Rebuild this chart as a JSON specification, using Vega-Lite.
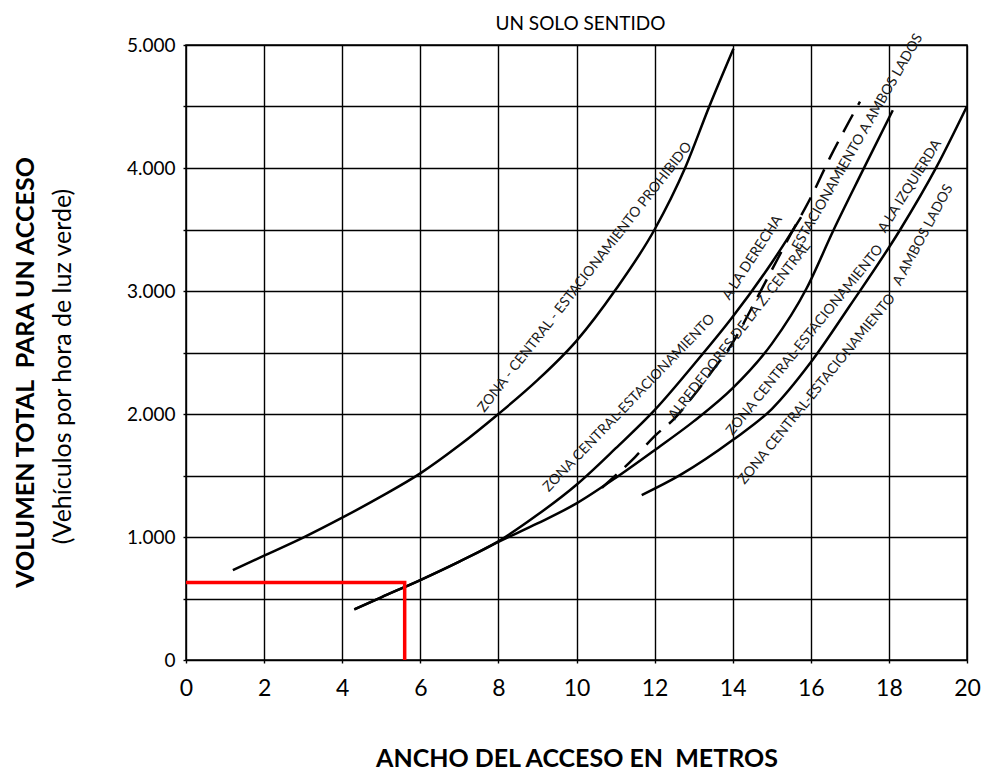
{
  "$schema": "https://vega.github.io/schema/vega-lite/v6.json",
  "description": "Volumen total para un acceso segun el ancho del acceso, un solo sentido.",
  "width": 781,
  "height": 615,
  "autosize": {"type": "none"},
  "padding": {"left": 186, "top": 45, "right": 20, "bottom": 111},
  "title": {
    "text": "UN SOLO SENTIDO",
    "fontSize": 19,
    "fontWeight": "normal",
    "font": "Lato",
    "color": "black",
    "frame": "group",
    "offset": 17,
    "dy": 20,
    "dx": 4
  },
  "datasets": {
    "curvas": [
      {"curva": "Prohibido", "x": 1.2, "y": 731},
      {"curva": "Prohibido", "x": 2, "y": 848},
      {"curva": "Prohibido", "x": 3, "y": 995},
      {"curva": "Prohibido", "x": 4, "y": 1157},
      {"curva": "Prohibido", "x": 5, "y": 1330},
      {"curva": "Prohibido", "x": 6, "y": 1517},
      {"curva": "Prohibido", "x": 7, "y": 1745},
      {"curva": "Prohibido", "x": 8, "y": 2000},
      {"curva": "Prohibido", "x": 9, "y": 2275},
      {"curva": "Prohibido", "x": 10, "y": 2595},
      {"curva": "Prohibido", "x": 11, "y": 3010},
      {"curva": "Prohibido", "x": 12, "y": 3500},
      {"curva": "Prohibido", "x": 12.78, "y": 4000},
      {"curva": "Prohibido", "x": 13.4, "y": 4500},
      {"curva": "Prohibido", "x": 14.02, "y": 4970},
      {"curva": "Derecha", "x": 4.31, "y": 412},
      {"curva": "Derecha", "x": 5, "y": 510},
      {"curva": "Derecha", "x": 6, "y": 650},
      {"curva": "Derecha", "x": 7, "y": 800},
      {"curva": "Derecha", "x": 8, "y": 965},
      {"curva": "Derecha", "x": 9, "y": 1180},
      {"curva": "Derecha", "x": 10, "y": 1425},
      {"curva": "Derecha", "x": 11, "y": 1720},
      {"curva": "Derecha", "x": 12, "y": 2031},
      {"curva": "Derecha", "x": 13, "y": 2400},
      {"curva": "Derecha", "x": 14, "y": 2790},
      {"curva": "Derecha", "x": 15, "y": 3230},
      {"curva": "Derecha", "x": 15.75, "y": 3600},
      {"curva": "Ambos lados Z. Central", "x": 4.31, "y": 412},
      {"curva": "Ambos lados Z. Central", "x": 5, "y": 510},
      {"curva": "Ambos lados Z. Central", "x": 6, "y": 650},
      {"curva": "Ambos lados Z. Central", "x": 7, "y": 800},
      {"curva": "Ambos lados Z. Central", "x": 8, "y": 960},
      {"curva": "Ambos lados Z. Central", "x": 9, "y": 1110},
      {"curva": "Ambos lados Z. Central", "x": 10, "y": 1273},
      {"curva": "Ambos lados Z. Central", "x": 11, "y": 1480},
      {"curva": "Ambos lados Z. Central", "x": 12, "y": 1706},
      {"curva": "Ambos lados Z. Central", "x": 13, "y": 1940},
      {"curva": "Ambos lados Z. Central", "x": 14, "y": 2210},
      {"curva": "Ambos lados Z. Central", "x": 15, "y": 2570},
      {"curva": "Ambos lados Z. Central", "x": 15.89, "y": 3020},
      {"curva": "Ambos lados Z. Central", "x": 16.58, "y": 3494},
      {"curva": "Ambos lados Z. Central", "x": 17.3, "y": 3960},
      {"curva": "Ambos lados Z. Central", "x": 18.1, "y": 4470},
      {"curva": "Ambos lados", "x": 11.67, "y": 1341},
      {"curva": "Ambos lados", "x": 12.65, "y": 1503},
      {"curva": "Ambos lados", "x": 14, "y": 1788},
      {"curva": "Ambos lados", "x": 15, "y": 2040},
      {"curva": "Ambos lados", "x": 16, "y": 2420},
      {"curva": "Ambos lados", "x": 17, "y": 2880},
      {"curva": "Ambos lados", "x": 18.28, "y": 3494},
      {"curva": "Ambos lados", "x": 19.22, "y": 4009},
      {"curva": "Ambos lados", "x": 19.99, "y": 4496},
      {"curva": "Alrededores", "x": 10.65, "y": 1400},
      {"curva": "Alrededores", "x": 11, "y": 1500},
      {"curva": "Alrededores", "x": 11.5, "y": 1650},
      {"curva": "Alrededores", "x": 12, "y": 1820},
      {"curva": "Alrededores", "x": 12.5, "y": 1960},
      {"curva": "Alrededores", "x": 13, "y": 2150},
      {"curva": "Alrededores", "x": 13.5, "y": 2360},
      {"curva": "Alrededores", "x": 14, "y": 2580},
      {"curva": "Alrededores", "x": 14.5, "y": 2870},
      {"curva": "Alrededores", "x": 15, "y": 3170},
      {"curva": "Alrededores", "x": 15.5, "y": 3470},
      {"curva": "Alrededores", "x": 16, "y": 3760},
      {"curva": "Alrededores", "x": 16.5, "y": 4090},
      {"curva": "Alrededores", "x": 17, "y": 4390},
      {"curva": "Alrededores", "x": 17.26, "y": 4540}
    ],
    "etiquetas": [
      {"id": "L1", "texto": "ZONA - CENTRAL -  ESTACIONAMIENTO PROHIBIDO", "x": 10.22, "y": 3112},
      {"id": "L2a", "texto": "ZONA CENTRAL-ESTACIONAMIENTO", "x": 11.35, "y": 2088},
      {"id": "L2b", "texto": "A LA DERECHA", "x": 14.51, "y": 3271},
      {"id": "L3a", "texto": "ALREDEDORES DE LA Z. CENTRAL", "x": 14.18, "y": 2674},
      {"id": "L3b", "texto": "ESTACIONAMIENTO A AMBOS LADOS", "x": 17.2, "y": 4210},
      {"id": "L4a", "texto": "ZONA CENTRAL-ESTACIONAMIENTO", "x": 15.85, "y": 2600},
      {"id": "L4b", "texto": "A LA IZQUIERDA", "x": 18.54, "y": 3852},
      {"id": "L5a", "texto": "ZONA CENTRAL-ESTACIONAMIENTO", "x": 16.16, "y": 2202},
      {"id": "L5b", "texto": "A AMBOS LADOS", "x": 18.88, "y": 3454}
    ],
    "lectura": [
      {"paso": 1, "x": 0, "y": 631},
      {"paso": 2, "x": 5.6, "y": 631},
      {"paso": 3, "x": 5.6, "y": 0}
    ]
  },
  "layer": [
    {
      "encoding": {
        "x": {
          "field": "x",
          "type": "quantitative",
          "scale": {"domain": [0, 20], "nice": false, "zero": false},
          "axis": {
            "values": [0, 2, 4, 6, 8, 10, 12, 14, 16, 18, 20],
            "grid": true,
            "gridColor": "black",
            "gridWidth": 1.4,
            "gridOpacity": 1,
            "domain": false,
            "ticks": true,
            "tickSize": 3,
            "tickColor": "black",
            "tickWidth": 1.4,
            "labelFontSize": 23,
            "labelPadding": 14,
            "labelFlush": false,
            "title": "ANCHO DEL ACCESO EN\u00a0 METROS",
            "titleFontSize": 25,
            "titleFontWeight": "bold",
            "titlePadding": 46
          }
        },
        "y": {
          "field": "y",
          "type": "quantitative",
          "scale": {"domain": [0, 5000], "nice": false},
          "axis": {
            "values": [0, 500, 1000, 1500, 2000, 2500, 3000, 3500, 4000, 4500, 5000],
            "grid": true,
            "gridColor": "black",
            "gridWidth": 1.4,
            "gridOpacity": 1,
            "domain": false,
            "ticks": true,
            "tickSize": 3,
            "tickColor": "black",
            "tickWidth": 1.4,
            "labelExpr": "datum.value % 1000 === 0 ? replace(format(datum.value, ','), ',', '.') : ''",
            "labelFontSize": 19,
            "labelPadding": 8,
            "title": "(Vehículos por hora de luz verde)",
            "titleFontSize": 25,
            "titleFontWeight": "normal",
            "titleAngle": -90,
            "titleX": -124,
            "titleY": 321,
            "titleAlign": "center",
            "titleBaseline": "middle"
          }
        }
      },
      "layer": [
        {
          "data": {"name": "curvas"},
          "transform": [{"filter": "datum.curva !== 'Alrededores'"}],
          "mark": {"type": "line", "color": "black", "strokeWidth": 2.5, "interpolate": "monotone"},
          "encoding": {"detail": {"field": "curva", "type": "nominal"}}
        },
        {
          "data": {"name": "curvas"},
          "transform": [{"filter": "datum.curva === 'Alrededores'"}],
          "mark": {"type": "line", "color": "black", "strokeWidth": 2.5, "interpolate": "monotone", "strokeDash": [20, 11]}
        },
        {
          "data": {"name": "etiquetas"},
          "mark": {"type": "text", "fontSize": 14, "font": "Lato", "color": "#1a1a1a", "align": "center", "baseline": "middle"},
          "encoding": {
            "text": {"field": "texto", "type": "nominal"},
            "angle": {
              "field": "id",
              "type": "nominal",
              "scale": {
                "type": "ordinal",
                "domain": ["L1", "L2a", "L2b", "L3a", "L3b", "L4a", "L4b", "L5a", "L5b"],
                "range": [-52, -46, -57, -52, -60, -51, -58, -51, -62]
              },
              "legend": null
            }
          }
        }
      ]
    },
    {
      "data": {"name": "lectura"},
      "mark": {"type": "line", "color": "#ff0000", "strokeWidth": 3.5},
      "encoding": {
        "x": {"field": "x", "type": "quantitative", "scale": {"domain": [0, 20], "nice": false, "zero": false}},
        "y": {
          "field": "y",
          "type": "quantitative",
          "scale": {"domain": [0, 5000], "nice": false},
          "axis": {
            "orient": "left",
            "labels": false,
            "ticks": false,
            "domain": false,
            "grid": false,
            "title": "VOLUMEN TOTAL\u00a0 PARA UN ACCESO",
            "titleFontSize": 25,
            "titleFontWeight": "bold",
            "titleAngle": -90,
            "titleX": -161,
            "titleY": 327,
            "titleAlign": "center",
            "titleBaseline": "middle"
          }
        },
        "order": {"field": "paso", "type": "quantitative"}
      }
    }
  ],
  "resolve": {"scale": {"y": "independent"}, "axis": {"y": "independent"}},
  "config": {
    "font": "Lato",
    "view": {"stroke": "black", "strokeWidth": 1.5},
    "axis": {"labelFont": "Lato", "titleFont": "Lato", "labelColor": "black", "titleColor": "black"}
  }
}
